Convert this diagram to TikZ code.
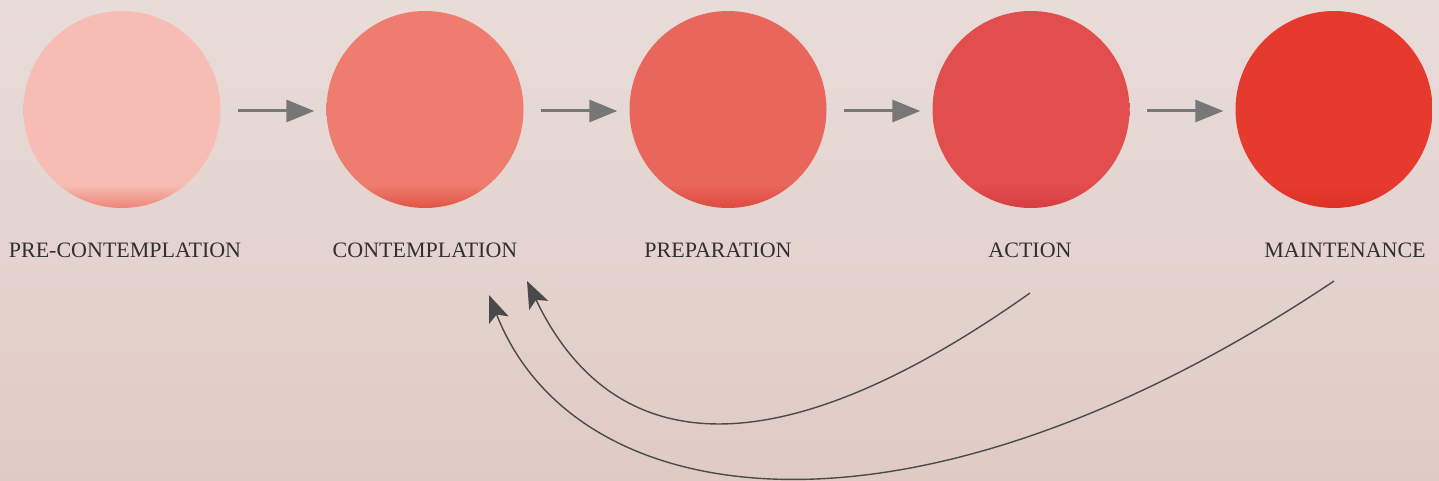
\documentclass[tikz,border=0pt]{standalone}
\usepackage{fontspec}
\setmainfont{Liberation Serif}
\usetikzlibrary{arrows.meta}
\definecolor{bgtop}{HTML}{E8DCD9}
\definecolor{bgbot}{HTML}{E0CBC4}
\definecolor{cA}{HTML}{F7BDB5}\definecolor{cAd}{HTML}{EE8577}
\definecolor{cB}{HTML}{EE7D70}\definecolor{cBd}{HTML}{E25444}
\definecolor{cC}{HTML}{E8665B}\definecolor{cCd}{HTML}{DE4A3F}
\definecolor{cD}{HTML}{E24D4E}\definecolor{cDd}{HTML}{D63E42}
\definecolor{cE}{HTML}{E63A2E}\definecolor{cEd}{HTML}{DD3126}
\definecolor{arrgray}{HTML}{777777}
\definecolor{curvegray}{HTML}{4A4A4A}
\definecolor{txt}{HTML}{303030}
\pgfdeclareverticalshading{shA}{100bp}{color(0bp)=(cAd); color(25bp)=(cAd); color(31bp)=(cA); color(100bp)=(cA)}
\pgfdeclareverticalshading{shB}{100bp}{color(0bp)=(cBd); color(25bp)=(cBd); color(31bp)=(cB); color(100bp)=(cB)}
\pgfdeclareverticalshading{shC}{100bp}{color(0bp)=(cCd); color(25bp)=(cCd); color(31bp)=(cC); color(100bp)=(cC)}
\pgfdeclareverticalshading{shD}{100bp}{color(0bp)=(cDd); color(25bp)=(cDd); color(31bp)=(cD); color(100bp)=(cD)}
\pgfdeclareverticalshading{shE}{100bp}{color(0bp)=(cEd); color(25bp)=(cEd); color(31bp)=(cE); color(100bp)=(cE)}
\tikzset{
  stage/.style={circle, minimum size=197pt, inner sep=0pt, draw=none},
  lbl/.style={anchor=base, text=txt, font=\fontsize{22}{26}\selectfont, inner sep=0pt},
  flow/.style={draw=arrgray, line width=3pt, -{Triangle[length=28pt,width=22pt]}, shorten <=17pt, shorten >=12pt},
  back/.style={draw=curvegray, line width=1.4pt, -{Stealth[length=27pt,width=21pt,inset=6pt]}}
}
\begin{document}
\begin{tikzpicture}[x=1pt,y=-1pt]
\shade[top color=bgtop, bottom color=bgbot] (0,0) rectangle (1439,481);
\useasboundingbox (0,0) rectangle (1439,481);
\node[stage, shading=shA] (s1) at (122,109.5) {};
\node[stage, shading=shB] (s2) at (425,109.5) {};
\node[stage, shading=shC] (s3) at (728,109.5) {};
\node[stage, shading=shD] (s4) at (1031,109.5) {};
\node[stage, shading=shE] (s5) at (1334,109.5) {};
\node[lbl] (l1) at (125,257) {PRE-CONTEMPLATION};
\node[lbl] (l2) at (425,257) {CONTEMPLATION};
\node[lbl] (l3) at (718,257) {PREPARATION};
\node[lbl] (l4) at (1030,257) {ACTION};
\node[lbl] (l5) at (1345,257) {MAINTENANCE};
\draw[flow] ([yshift=-1.5pt]s1.east) -- ([yshift=-1.5pt]s2.west);
\draw[flow] ([yshift=-1.5pt]s2.east) -- ([yshift=-1.5pt]s3.west);
\draw[flow] ([yshift=-1.5pt]s3.east) -- ([yshift=-1.5pt]s4.west);
\draw[flow] ([yshift=-1.5pt]s4.east) -- ([yshift=-1.5pt]s5.west);
\coordinate (a1) at (1030,293);
\coordinate (b1) at (527,281);
\coordinate (a2) at (1334,281);
\coordinate (b2) at (489,295);
\draw[back] (a1) .. controls (773,475) and (612,458) .. (b1);
\draw[back] (a2) .. controls (910,565) and (575,515) .. (b2);
\end{tikzpicture}
\end{document}
